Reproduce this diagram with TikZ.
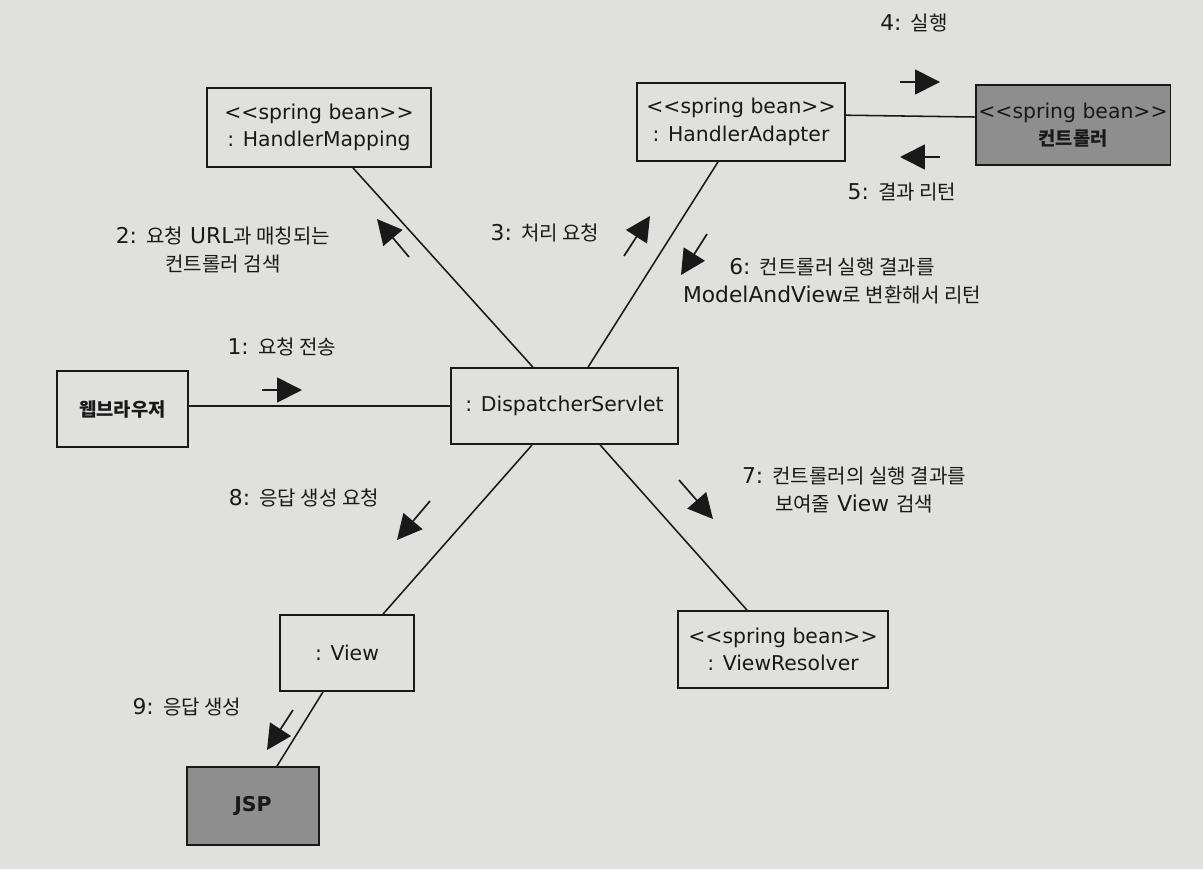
\documentclass[tikz,border=0pt]{standalone}
\usepackage{fontspec}
\setmainfont{DejaVu Sans}
\newfontfamily\kr[Scale=0.92]{Noto Sans CJK KR}
\newcommand{\kor}[1]{{\kr #1}}
\usetikzlibrary{arrows.meta}
\definecolor{paper}{RGB}{224,224,222}
\definecolor{beangray}{RGB}{142,142,142}
\definecolor{ink}{RGB}{25,25,25}
\tikzset{
  obj/.style={draw=ink, text=ink, line width=1.3pt, align=center, inner sep=2pt, font=\fontsize{14.5}{19.5}\selectfont},
  darkobj/.style={obj, fill=beangray},
  link/.style={draw=ink, line width=1.1pt},
  msg/.style={draw=ink, line width=1.2pt, -{Triangle[length=0.62cm,width=0.62cm]}},
  lbl/.style={text=ink, align=center, font=\fontsize{15.5}{19.5}\selectfont}
}
\begin{document}
\begin{tikzpicture}[x=0.025cm,y=-0.025cm]
  \fill[paper] (0,0) rectangle (1203,869);
  \useasboundingbox (0,0) rectangle (1203,869);
  % objects
  \node[obj, minimum width=5.6cm, minimum height=1.975cm] (hm) at (319,127.5) {<{}<spring bean>{}>\\: HandlerMapping};
  \node[obj, minimum width=5.2cm, minimum height=1.95cm] (ha) at (741,122) {<{}<spring bean>{}>\\: HandlerAdapter};
  \node[darkobj, minimum width=4.85cm, minimum height=2cm] (ctrl) at (1073,125) {<{}<spring bean>{}>\\\kor{\bfseries 컨트롤러}};
  \node[obj, minimum width=3.275cm, minimum height=1.9cm] (web) at (122.5,409) {\kor{\bfseries 웹브라우저}};
  \node[obj, minimum width=5.675cm, minimum height=1.9cm] (ds) at (564.5,406) {: DispatcherServlet};
  \node[obj, minimum width=3.35cm, minimum height=1.9cm] (view) at (347,653) {: View};
  \node[obj, minimum width=5.25cm, minimum height=1.925cm] (vr) at (783,649.5) {<{}<spring bean>{}>\\: ViewResolver};
  \node[darkobj, minimum width=3.3cm, minimum height=1.95cm] (jsp) at (253,806) {\bfseries JSP};
  % links
  \draw[link] (ds.west -| web.east) -- (ds.west);
  \draw[link] ([xshift=0.85cm]hm.south) -- ([xshift=-0.79cm]ds.north);
  \draw[link] ([xshift=-0.575cm]ha.south) -- ([xshift=0.59cm]ds.north);
  \draw[link] ([yshift=0.17cm]ha.east) -- ([yshift=0.2cm]ctrl.west);
  \draw[link] ([xshift=-0.81cm]ds.south) -- ([xshift=0.9cm]view.north);
  \draw[link] ([xshift=0.89cm]ds.south) -- ([xshift=-0.9cm]vr.north);
  \draw[link] ([xshift=-0.6cm]view.south) -- ([xshift=0.6cm]jsp.north);
  % messages
  \foreach \n/\s/\t in {1/{262,390}/{302,390}, 2/{409,257}/{377,219}, 3/{624,256}/{650,216},
      4/{900,82}/{940,82}, 5/{940,157}/{900,157}, 6/{707,234}/{681,275},
      7/{679,480}/{713,519}, 8/{430,501}/{397,540}, 9/{293,710}/{267,750}}{
    \coordinate (m\n from) at (\s);
    \coordinate (m\n to) at (\t);
    \draw[msg] (m\n from) -- (m\n to);
  }
  \node[lbl] (l1) at (282,347) {1: \kor{요청 전송}};
  \node[lbl] (l2) at (223,250) {2: \kor{요청} URL\kor{과 매칭되는}\\\kor{컨트롤러 검색}};
  \node[lbl] (l3) at (545,233) {3: \kor{처리 요청}};
  \node[lbl] (l4) at (914,23) {4: \kor{실행}};
  \node[lbl] (l5) at (902,192) {5: \kor{결과 리턴}};
  \node[lbl] (l6) at (832,281) {6: \kor{컨트롤러 실행 결과를}\\ModelAndView\kor{로 변환해서 리턴}};
  \node[lbl] (l7) at (854,490) {7: \kor{컨트롤러의 실행 결과를}\\\kor{보여줄} View \kor{검색}};
  \node[lbl] (l8) at (304,498) {8: \kor{응답 생성 요청}};
  \node[lbl] (l9) at (187,707) {9: \kor{응답 생성}};
\end{tikzpicture}
\end{document}
